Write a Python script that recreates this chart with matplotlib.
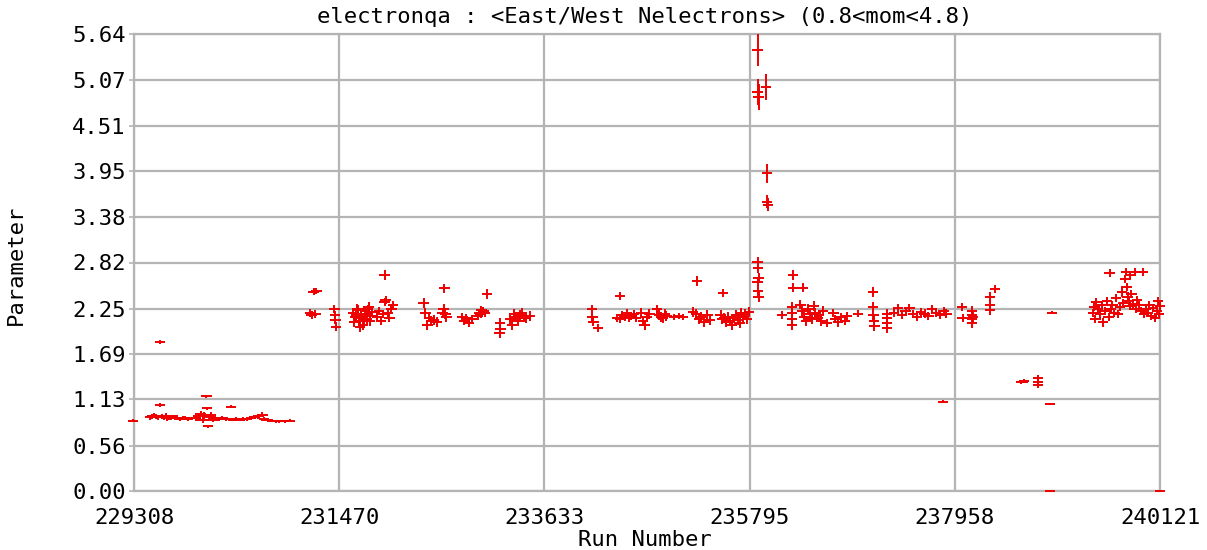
import matplotlib
matplotlib.use("Agg")
import matplotlib.pyplot as plt
import numpy as np

# ---------------- data ----------------
x_ticks = [229308, 231470, 233633, 235795, 237958, 240121]
y_ticks = [0.00, 0.56, 1.13, 1.69, 2.25, 2.82, 3.38, 3.95, 4.51, 5.07, 5.64]

# segment 1: early runs (~0.9)
runs_1 = [229300, 229480, 229500, 229520, 229540, 229560, 229582, 229582, 229600, 229620,
          229640, 229660, 229680, 229700, 229720, 229740, 229760, 229790, 229820, 229850,
          229880, 229960, 229990, 230010, 230030, 230050, 230070, 230077, 230090, 230100,
          230120, 230140, 230160, 230200, 230240, 230280, 230330, 230350, 230380, 230420,
          230460, 230500, 230540, 230580, 230620, 230660, 230680, 230700, 230760, 230800,
          230840, 230900, 230950]
vals_1 = [0.87, 0.91, 0.92, 0.93, 0.92, 0.91, 1.84, 1.06, 0.92, 0.91,
          0.93, 0.90, 0.91, 0.90, 0.92, 0.90, 0.90, 0.89, 0.90, 0.90,
          0.89, 0.90, 0.92, 0.95, 0.88, 0.93, 1.17, 1.02, 0.80, 0.91,
          0.94, 0.88, 0.90, 0.89, 0.90, 0.89, 1.04, 0.88, 0.89, 0.88,
          0.89, 0.89, 0.90, 0.91, 0.92, 0.94, 0.89, 0.88, 0.87, 0.86,
          0.86, 0.86, 0.87]
errs_1 = [0.02, 0.03, 0.03, 0.03, 0.03, 0.03, 0.02, 0.02, 0.03, 0.03,
          0.03, 0.03, 0.03, 0.02, 0.02, 0.02, 0.02, 0.02, 0.02, 0.02,
          0.02, 0.03, 0.04, 0.04, 0.04, 0.04, 0.02, 0.02, 0.02, 0.04,
          0.04, 0.03, 0.03, 0.02, 0.02, 0.02, 0.02, 0.02, 0.02, 0.02,
          0.02, 0.02, 0.02, 0.02, 0.03, 0.03, 0.02, 0.02, 0.02, 0.02,
          0.02, 0.02, 0.02]

# segment 2: runs ~231150-233500 (~2.2)
runs_2 = [231160, 231180, 231200, 231230, 231220, 231420, 231425, 231430, 231435,
          231620, 231640, 231660, 231680, 231700, 231720, 231740, 231760, 231780, 231800,
          231630, 231670, 231710, 231750, 231790, 231820, 231650, 231690, 231730, 231770,
          231870, 231890, 231910, 231930, 231950, 231950, 231960, 231980, 232000, 232020, 232040,
          232360, 232380, 232400, 232420, 232440, 232470, 232500,
          232580, 232560, 232570, 232590, 232600,
          232770, 232790, 232810, 232840, 232870,
          232930, 232950, 232960, 232970, 232990, 233028, 233007,
          233165, 233170, 233160,
          233270, 233290, 233310, 233330, 233350, 233380, 233400, 233420, 233440, 233480]
vals_2 = [2.20, 2.17, 2.46, 2.47, 2.18, 2.25, 2.17, 2.11, 2.03,
          2.20, 2.15, 2.25, 2.10, 2.18, 2.05, 2.22, 2.12, 2.27, 2.16,
          2.08, 2.23, 2.14, 2.19, 2.10, 2.21, 2.17, 2.02, 2.12, 2.24,
          2.15, 2.22, 2.10, 2.18, 2.67, 2.33, 2.36, 2.20, 2.13, 2.25, 2.30,
          2.32, 2.20, 2.05, 2.14, 2.10, 2.11, 2.09,
          2.50, 2.20, 2.25, 2.18, 2.15,
          2.15, 2.10, 2.13, 2.07, 2.12,
          2.16, 2.20, 2.18, 2.23, 2.22, 2.43, 2.20,
          2.07, 2.00, 1.95,
          2.12, 2.05, 2.18, 2.15, 2.10, 2.17, 2.20, 2.14, 2.13, 2.16]
errs_2 = [0.05, 0.05, 0.04, 0.04, 0.05, 0.05, 0.05, 0.05, 0.05,
          0.06, 0.06, 0.06, 0.06, 0.06, 0.06, 0.06, 0.06, 0.06, 0.06,
          0.06, 0.06, 0.06, 0.06, 0.06, 0.06, 0.06, 0.06, 0.06, 0.06,
          0.05, 0.05, 0.05, 0.05, 0.06, 0.05, 0.05, 0.05, 0.05, 0.05, 0.05,
          0.06, 0.06, 0.06, 0.06, 0.06, 0.06, 0.06,
          0.06, 0.06, 0.06, 0.06, 0.06,
          0.05, 0.05, 0.05, 0.05, 0.05,
          0.05, 0.05, 0.05, 0.05, 0.05, 0.06, 0.05,
          0.06, 0.06, 0.06,
          0.06, 0.06, 0.06, 0.06, 0.06, 0.06, 0.06, 0.06, 0.06, 0.06]

# segment 3: runs ~234100-235800 (~2.15)
runs_3 = [234135, 234140, 234150, 234198, 234430,
          234400, 234430, 234450, 234480, 234500, 234520, 234550, 234580, 234600,
          234650, 234670, 234690, 234710, 234740,
          234820, 234840, 234860, 234880, 234900, 234920,
          235000, 235050, 235090, 235242,
          235200, 235230, 235260, 235280, 235310, 235350, 235380, 235516,
          235490, 235510, 235530, 235550, 235570, 235590, 235610, 235630,
          235650, 235670, 235690, 235710, 235730, 235750, 235770, 235790]
vals_3 = [2.25, 2.15, 2.09, 2.01, 2.41,
          2.14, 2.12, 2.17, 2.15, 2.20, 2.13, 2.16, 2.18, 2.14,
          2.20, 2.10, 2.05, 2.15, 2.18,
          2.24, 2.17, 2.15, 2.13, 2.19, 2.16,
          2.15, 2.16, 2.15, 2.59,
          2.21, 2.18, 2.12, 2.15, 2.08, 2.17, 2.11, 2.44,
          2.17, 2.12, 2.14, 2.08, 2.15, 2.10, 2.05, 2.13,
          2.17, 2.11, 2.07, 2.20, 2.15, 2.19, 2.12, 2.21]
errs_3 = [0.05, 0.05, 0.05, 0.05, 0.05,
          0.05, 0.05, 0.05, 0.05, 0.05, 0.05, 0.05, 0.05, 0.05,
          0.06, 0.06, 0.06, 0.06, 0.06,
          0.06, 0.06, 0.06, 0.06, 0.06, 0.06,
          0.04, 0.04, 0.04, 0.06,
          0.06, 0.06, 0.06, 0.06, 0.06, 0.06, 0.06, 0.05,
          0.06, 0.06, 0.06, 0.06, 0.06, 0.06, 0.06, 0.06,
          0.06, 0.06, 0.06, 0.06, 0.06, 0.06, 0.06, 0.06]

# segment 4: spike + runs ~235880-238400
runs_4 = [235880, 235880, 235890, 235970, 235980, 235980, 235990,
          235880, 235885, 235890, 235880, 235885, 235890,
          236253, 236253, 236359, 236137, 236243, 236243, 236243, 236243,
          236330, 236350, 236370, 236390, 236410, 236430, 236450, 236470, 236490,
          236510, 236530, 236550, 236570, 236612,
          236680, 236700, 236730, 236760, 236800, 236820, 236938,
          237096, 237096, 237100, 237105, 237110, 237244, 237244, 237244, 237244,
          237320, 237360, 237400, 237440, 237480, 237520, 237560, 237600, 237640,
          237680, 237720, 237760, 237800, 237840, 237870, 237834,
          238034, 238040, 238140, 238140, 238140, 238140, 238150,
          238329, 238329, 238329, 238382]
vals_4 = [5.44, 4.92, 4.86, 4.99, 3.92, 3.57, 3.53,
          2.83, 2.75, 2.63, 2.58, 2.47, 2.39,
          2.67, 2.51, 2.51, 2.17, 2.27, 2.20, 2.12, 2.05,
          2.30, 2.22, 2.15, 2.10, 2.25, 2.18, 2.12, 2.28, 2.20,
          2.14, 2.17, 2.10, 2.22, 2.07,
          2.20, 2.12, 2.08, 2.15, 2.10, 2.16, 2.19,
          2.46, 2.27, 2.17, 2.10, 2.04, 2.19, 2.13, 2.07, 2.01,
          2.20, 2.26, 2.17, 2.22, 2.26, 2.18, 2.15, 2.21, 2.19,
          2.16, 2.24, 2.20, 2.17, 2.22, 2.19, 1.10,
          2.27, 2.14, 2.22, 2.17, 2.12, 2.07, 2.15,
          2.39, 2.30, 2.23, 2.49]
errs_4 = [0.20, 0.16, 0.16, 0.16, 0.12, 0.08, 0.08,
          0.06, 0.06, 0.06, 0.06, 0.06, 0.06,
          0.06, 0.06, 0.06, 0.05, 0.06, 0.06, 0.06, 0.06,
          0.06, 0.06, 0.06, 0.06, 0.06, 0.06, 0.06, 0.06, 0.06,
          0.06, 0.06, 0.06, 0.06, 0.05,
          0.05, 0.05, 0.05, 0.05, 0.05, 0.05, 0.04,
          0.06, 0.06, 0.06, 0.06, 0.06, 0.06, 0.06, 0.06, 0.06,
          0.05, 0.05, 0.05, 0.05, 0.05, 0.05, 0.05, 0.05, 0.05,
          0.05, 0.05, 0.05, 0.05, 0.05, 0.05, 0.02,
          0.05, 0.05, 0.06, 0.06, 0.06, 0.06, 0.06,
          0.06, 0.06, 0.06, 0.05]

# segment 5: late runs ~238650-240121
runs_5 = [238660, 238677, 238690, 238835, 238835, 238835, 238983, 238962, 238962,
          239420, 239430, 239440, 239450, 239470, 239490, 239510, 239520, 239540, 239560,
          239580, 239590, 239600, 239620, 239640, 239660, 239680, 239700, 239720, 239730,
          239750, 239760, 239770, 239780, 239790, 239800, 239810, 239820, 239840, 239860,
          239870, 239880, 239900, 239920, 239940, 239950, 239970, 239990, 240010, 240030,
          240050, 240070, 240090, 240110, 240120, 240100, 240121]
vals_5 = [1.34, 1.35, 1.36, 1.39, 1.35, 1.31, 2.20, 1.07, 0.00,
          2.20, 2.27, 2.12, 2.33, 2.24, 2.18, 2.29, 2.08, 2.22, 2.35,
          2.15, 2.69, 2.25, 2.30, 2.20, 2.38, 2.18, 2.27, 2.45, 2.32,
          2.62, 2.70, 2.52, 2.40, 2.35, 2.28, 2.66, 2.43, 2.31, 2.70,
          2.25, 2.36, 2.29, 2.22, 2.70, 2.18, 2.24, 2.20, 2.30, 2.16,
          2.26, 2.13, 2.22, 2.18, 2.28, 2.35, 0.00]
errs_5 = [0.02, 0.02, 0.02, 0.04, 0.04, 0.04, 0.02, 0.01, 0.01,
          0.05, 0.05, 0.05, 0.05, 0.05, 0.05, 0.05, 0.05, 0.05, 0.05,
          0.05, 0.05, 0.05, 0.05, 0.05, 0.05, 0.05, 0.05, 0.05, 0.05,
          0.05, 0.05, 0.05, 0.05, 0.05, 0.05, 0.05, 0.05, 0.05, 0.05,
          0.05, 0.05, 0.05, 0.05, 0.05, 0.05, 0.05, 0.05, 0.05, 0.05,
          0.05, 0.05, 0.05, 0.05, 0.05, 0.05, 0.01]

title = "electronqa : <East/West Nelectrons> (0.8<mom<4.8)"
x_label = "Run Number"
y_label = "Parameter"

# ---------------- plotting ----------------
FONT = "DejaVu Sans Mono"
GRID = "#b4b4b4"
RED = "#ee0000"
HALF_W = 55  # horizontal half-width of each cross (runs)

fig = plt.figure(figsize=(12.07, 5.50), dpi=100)
ax = fig.add_axes([134 / 1207, 1 - 491 / 550, (1160 - 134) / 1207, (491 - 34) / 550])

for r, v, e in [(runs_1, vals_1, errs_1), (runs_2, vals_2, errs_2), (runs_3, vals_3, errs_3),
                (runs_4, vals_4, errs_4), (runs_5, vals_5, errs_5)]:
    ax.errorbar(r, v, yerr=e, xerr=HALF_W, fmt="none", ecolor=RED, elinewidth=1.4,
                capsize=0, zorder=3, clip_on=False)

ax.set_xlim(x_ticks[0], x_ticks[-1])
ax.set_ylim(y_ticks[0], y_ticks[-1])
ax.set_xticks(x_ticks)
ax.set_xticklabels([str(t) for t in x_ticks])
ax.set_yticks(y_ticks)
ax.set_yticklabels([f"{t:.2f}" for t in y_ticks])

ax.grid(True, color=GRID, linewidth=1.6, zorder=0)
ax.set_axisbelow(True)
for s in ax.spines.values():
    s.set_color(GRID)
    s.set_linewidth(1.6)
ax.tick_params(axis="y", length=3.5, width=1.2, color=GRID, direction="out", labelsize=16, pad=2.5)
ax.tick_params(axis="x", length=0, labelsize=16, pad=12)
for lab in ax.get_xticklabels() + ax.get_yticklabels():
    lab.set_family(FONT)
    lab.set_color("black")

fig.text(645 / 1207, 1 - 17 / 550, title, ha="center", va="center", fontsize=16, family=FONT)
fig.text(645 / 1207, 1 - 540 / 550, x_label, ha="center", va="center", fontsize=16, family=FONT)
fig.text(16 / 1207, 1 - 265 / 550, y_label, ha="center", va="center", fontsize=16,
         family=FONT, rotation=90)

fig.savefig("out.png", dpi=100, facecolor="white")
